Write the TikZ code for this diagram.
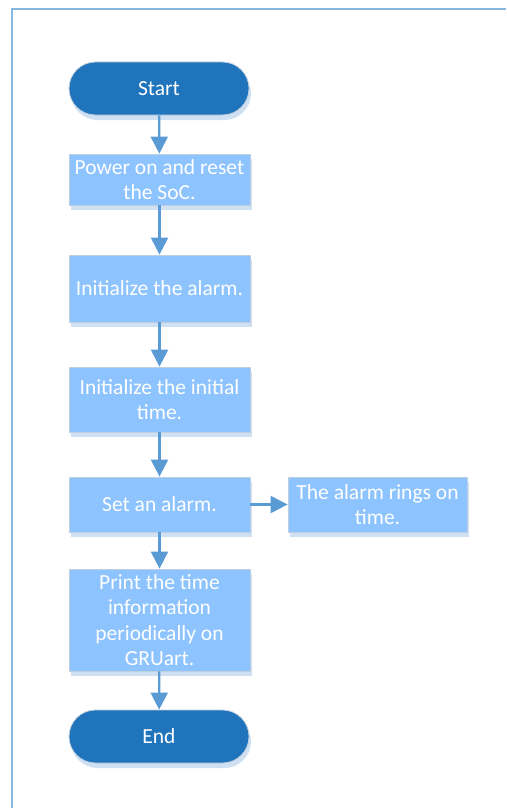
\documentclass[tikz,border=0pt]{standalone}
\usepackage{fontspec}
\setmainfont{Carlito}
\usetikzlibrary{shapes.misc,arrows.meta,shadows}

\definecolor{frameblue}{HTML}{85B8E0}
\definecolor{termfill}{HTML}{1F74BB}
\definecolor{stepfill}{HTML}{8DC3FE}
\definecolor{edgegray}{HTML}{BFCFDF}
\definecolor{shadowblue}{HTML}{CFE0F2}
\definecolor{arrowblue}{HTML}{5B9BD5}

\tikzset{
  basebox/.style={
    draw=edgegray, line width=0.8pt, text=white, align=center,
    font=\fontsize{21.5}{25.5}\selectfont, inner sep=0pt,
    general shadow={fill=shadowblue, shadow xshift=2pt, shadow yshift=-5pt}},
  terminal/.style={basebox, rounded rectangle, fill=termfill,
    minimum width=180pt, minimum height=53pt},
  stepbox/.style={basebox, rectangle, fill=stepfill,
    minimum width=181pt},
  flow/.style={draw=arrowblue, line width=2.2pt,
    -{Triangle[width=17pt,length=17pt]}}
}

\begin{document}
\begin{tikzpicture}[x=1pt,y=-1pt]
  \useasboundingbox (0,0) rectangle (506,808);

  % page frame (left and top edges)
  \draw[frameblue, line width=2pt] (12,808) -- (12,9) -- (506,9);

  % flow nodes
  \node[terminal] (start) at (159,88.5) {Start};
  \node[stepbox, minimum height=51pt] (reset) at (159.5,179.5) {Power on and reset\\the SoC.};
  \node[stepbox, minimum height=67pt] (initalarm) at (159.5,288.5) {Initialize the alarm.};
  \node[stepbox, minimum height=65pt] (inittime) at (159.5,399.5) {Initialize the initial\\time.};
  \node[stepbox, minimum height=55pt] (setalarm) at (159.5,504.5) {Set an alarm.};
  \node[stepbox, minimum width=179pt, minimum height=55pt] (rings) at (377.5,504.5) {The alarm rings on\\time.};
  \node[stepbox, minimum height=102pt] (print) at (159.5,620) {Print the time\\information\\periodically on\\GRUart.};
  \node[terminal] (end) at (159,736.5) {End};

  % connectors
  \draw[flow] (start) -- (reset);
  \draw[flow] (reset) -- (initalarm);
  \draw[flow] (initalarm) -- (inittime);
  \draw[flow] (inittime) -- (setalarm);
  \draw[flow] (setalarm) -- (rings);
  \draw[flow] (setalarm) -- (print);
  \draw[flow] (print) -- (end);
\end{tikzpicture}
\end{document}
